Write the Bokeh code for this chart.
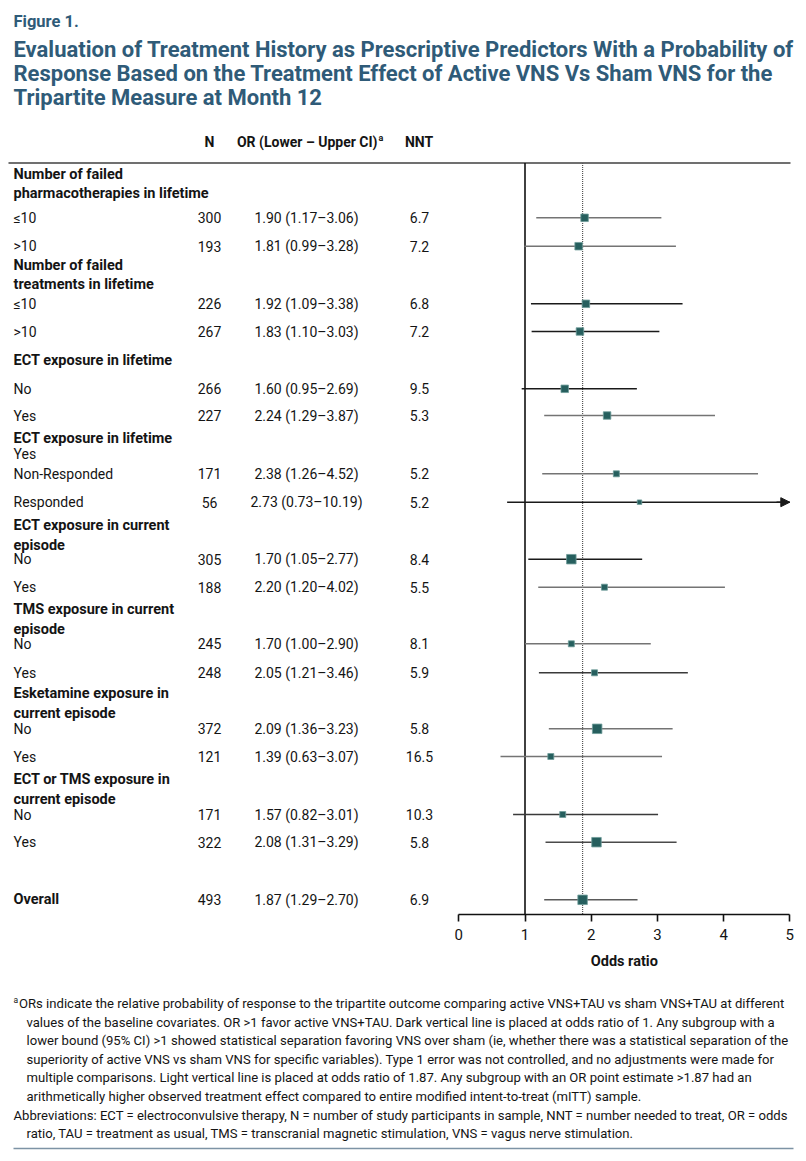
from bokeh.plotting import figure
from bokeh.models import Range1d, LinearAxis, FixedTicker, Arrow, NormalHead
from bokeh.core.properties import value
from bokeh.embed import file_html
from bokeh.resources import INLINE

# ---------------- data ----------------
group_titles = [
    ["Number of failed", "pharmacotherapies in lifetime"],
    ["Number of failed", "treatments in lifetime"],
    ["ECT exposure in lifetime"],
    ["ECT exposure in lifetime"],
    ["ECT exposure in current", "episode"],
    ["TMS exposure in current", "episode"],
    ["Esketamine exposure in", "current episode"],
    ["ECT or TMS exposure in", "current episode"],
]
sub_title = "Yes"  # sub-level under the 4th group
row_labels = ["≤10", ">10", "≤10", ">10", "No", "Yes", "Non-Responded", "Responded",
              "No", "Yes", "No", "Yes", "No", "Yes", "No", "Yes", "Overall"]
n_values = [300, 193, 226, 267, 266, 227, 171, 56, 305, 188, 245, 248, 372, 121, 171, 322, 493]
or_values = [1.90, 1.81, 1.92, 1.83, 1.60, 2.24, 2.38, 2.73, 1.70, 2.20, 1.70, 2.05, 2.09, 1.39, 1.57, 2.08, 1.87]
ci_lower = [1.17, 0.99, 1.09, 1.10, 0.95, 1.29, 1.26, 0.73, 1.05, 1.20, 1.00, 1.21, 1.36, 0.63, 0.82, 1.31, 1.29]
ci_upper = [3.06, 3.28, 3.38, 3.03, 2.69, 3.87, 4.52, 10.19, 2.77, 4.02, 2.90, 3.46, 3.23, 3.07, 3.01, 3.29, 2.70]
nnt_values = [6.7, 7.2, 6.8, 7.2, 9.5, 5.3, 5.2, 5.2, 8.4, 5.5, 8.1, 5.9, 5.8, 16.5, 10.3, 5.8, 6.9]
tick_values = [0, 1, 2, 3, 4, 5]
null_value = 1

col_headers = ["N", "OR (Lower \u2013 Upper CI)", "NNT"]
fig_label = "Figure 1."
title_lines = [
    "Evaluation of Treatment History as Prescriptive Predictors With a Probability of",
    "Response Based on the Treatment Effect of Active VNS Vs Sham VNS for the",
    "Tripartite Measure at Month 12",
]
x_label = "Odds ratio"
footnote_lines = [
    "ORs indicate the relative probability of response to the tripartite outcome comparing active VNS+TAU vs sham VNS+TAU at different",
    "values of the baseline covariates. OR >1 favor active VNS+TAU. Dark vertical line is placed at odds ratio of 1. Any subgroup with a",
    "lower bound (95% CI) >1 showed statistical separation favoring VNS over sham (ie, whether there was a statistical separation of the",
    "superiority of active VNS vs sham VNS for specific variables). Type 1 error was not controlled, and no adjustments were made for",
    "multiple comparisons. Light vertical line is placed at odds ratio of 1.87. Any subgroup with an OR point estimate >1.87 had an",
    "arithmetically higher observed treatment effect compared to entire modified intent-to-treat (mITT) sample.",
]
abbrev_lines = [
    "Abbreviations: ECT = electroconvulsive therapy, N = number of study participants in sample, NNT = number needed to treat, OR = odds",
    "ratio, TAU = treatment as usual, TMS = transcranial magnetic stimulation, VNS = vagus nerve stimulation.",
]

# ---------------- layout / style ----------------
W, H = 798, 1156
X0, XS = 458.3, 66.2          # pixel of OR=0, pixels per OR unit
def X(px):
    return (px - X0) / XS

group_y = [[174, 193.3], [265, 284.3], [360], [438.3], [525, 545], [609, 629], [693.3, 713.3], [779.3, 799.3]]
sub_title_y = 453.3
row_y = [217.3, 245.7, 303.3, 331, 388.3, 415, 473.3, 501.7, 558.7, 586.7,
         643.3, 672.3, 728.3, 756, 814, 841.7, 899.3]
box_size = [7.5, 7.5, 7.5, 7.5, 7.5, 7.5, 6, 4.5, 9.5, 6, 6, 6, 9.5, 6, 6, 9.5, 9.5]
ci_color = ["#747474", "#747474", "#1a1a1a", "#1a1a1a", "#1a1a1a", "#747474", "#747474", "#1a1a1a",
            "#1a1a1a", "#747474", "#747474", "#3a3a3a", "#747474", "#747474", "#3a3a3a", "#4a4a4a", "#5a5a5a"]
RULE_Y, AXIS_Y, AXIS_MAX = 162.5, 914, tick_values[-1]
TITLE_C = "#2f5b78"
BOX_C = "#265f5e"
FONT = value("Roboto")
TXT = "#141414"

p = figure(width=W, height=H, output_backend="svg", toolbar_location=None,
           x_range=Range1d(X(0), X(W)), y_range=Range1d(H, 0),
           x_axis_location=None, y_axis_location=None, min_border=0)
p.outline_line_color = None
p.grid.visible = False

# title
p.text(x=[X(13)], y=[20.5], text=[fig_label], text_font=FONT, text_font_style="bold",
       text_font_size="16.5px", text_color=TITLE_C, text_baseline="middle")
p.text(x=[X(13)] * 3, y=[48.5, 72.7, 96.8], text=title_lines, text_font=FONT,
       text_font_style="bold", text_font_size="22px", text_color=TITLE_C, text_baseline="middle")

# column headers
HDR_FS = "14px"
p.text(x=[X(209)], y=[141.7], text=[col_headers[0]], text_font=FONT, text_font_style="bold",
       text_font_size=HDR_FS, text_color=TXT, text_align="center", text_baseline="middle")
p.text(x=[X(377)], y=[141.7], text=[col_headers[1]], text_font=FONT, text_font_style="bold",
       text_font_size=HDR_FS, text_color=TXT, text_align="right", text_baseline="middle")
p.text(x=[X(378)], y=[137.5], text=["a"], text_font=FONT, text_font_style="bold",
       text_font_size="9px", text_color=TXT, text_align="left", text_baseline="middle")
p.text(x=[X(418.5)], y=[141.7], text=[col_headers[2]], text_font=FONT, text_font_style="bold",
       text_font_size=HDR_FS, text_color=TXT, text_align="center", text_baseline="middle")

# group titles
gx, gy, gt = [], [], []
for lines, ys in zip(group_titles, group_y):
    for t, yy in zip(lines, ys):
        gx.append(X(13)); gy.append(yy); gt.append(t)
p.text(x=gx, y=gy, text=gt, text_font=FONT, text_font_style="bold", text_font_size="14.5px",
       text_color=TXT, text_baseline="middle")
p.text(x=[X(13)], y=[sub_title_y], text=[sub_title], text_font=FONT, text_font_size="14px",
       text_color=TXT, text_baseline="middle")

# row labels and columns
NUM_FS = "14px"
reg = list(range(len(row_labels) - 1))
p.text(x=[X(13)] * len(reg), y=[row_y[i] for i in reg], text=[row_labels[i] for i in reg],
       text_font=FONT, text_font_size="14px", text_color=TXT, text_baseline="middle")
p.text(x=[X(13)], y=[row_y[-1]], text=[row_labels[-1]], text_font=FONT, text_font_style="bold",
       text_font_size="14.5px", text_color=TXT, text_baseline="middle")
p.text(x=[X(209)] * len(n_values), y=row_y, text=[str(n) for n in n_values], text_font=FONT,
       text_font_size=NUM_FS, text_color=TXT, text_align="center", text_baseline="middle")
or_txt = [f"{o:.2f} ({l:.2f}\u2013{u:.2f})" for o, l, u in zip(or_values, ci_lower, ci_upper)]
p.text(x=[X(306)] * len(or_txt), y=row_y, text=or_txt, text_font=FONT,
       text_font_size=NUM_FS, text_color=TXT, text_align="center", text_baseline="middle")
p.text(x=[X(419)] * len(nnt_values), y=row_y, text=[f"{v:.1f}" for v in nnt_values], text_font=FONT,
       text_font_size=NUM_FS, text_color=TXT, text_align="center", text_baseline="middle")

# rules
p.segment(x0=[X(8)], y0=[RULE_Y], x1=[X(790)], y1=[RULE_Y], line_color="#707070", line_width=2)
p.segment(x0=[X(13)], y0=[1148], x1=[X(793)], y1=[1148], line_color="#7d93a5", line_width=1.5)

# reference lines
p.segment(x0=[null_value], y0=[RULE_Y], x1=[null_value], y1=[AXIS_Y], line_color="#111111", line_width=1.6)
p.segment(x0=[or_values[-1]], y0=[RULE_Y], x1=[or_values[-1]], y1=[AXIS_Y], line_color="#555555",
          line_width=1.2, line_dash="1 1")

# CI lines and boxes
x_hi = [min(u, AXIS_MAX) for u in ci_upper]
p.segment(x0=ci_lower, y0=row_y, x1=x_hi, y1=row_y, line_color=ci_color, line_width=1.6)
for u, yy, c in zip(ci_upper, row_y, ci_color):
    if u > AXIS_MAX:
        p.add_layout(Arrow(end=NormalHead(size=9, fill_color=c, line_color=c), x_start=AXIS_MAX - 0.2,
                           y_start=yy, x_end=AXIS_MAX, y_end=yy, line_color=c, line_width=1.6))
p.scatter(x=or_values, y=row_y, size=box_size, marker="square", fill_color=BOX_C,
          line_color="#6f9c99", line_width=0.8)

# axis
ax = LinearAxis(fixed_location=AXIS_Y, bounds=(tick_values[0], tick_values[-1]),
                ticker=FixedTicker(ticks=tick_values))
ax.axis_line_width = 1.6
ax.axis_line_color = "#111111"
ax.major_tick_line_width = 1.6
ax.major_tick_line_color = "#111111"
ax.major_tick_out = 7
ax.major_tick_in = 0
ax.minor_tick_out = 0
ax.minor_tick_in = 0
ax.major_label_text_font = "Roboto"
ax.major_label_text_font_size = "15px"
ax.major_label_text_color = TXT
ax.major_label_standoff = 7
p.add_layout(ax, "below")
p.text(x=[(tick_values[0] + tick_values[-1]) / 2], y=[961], text=[x_label], text_font=FONT,
       text_font_style="bold", text_font_size="14.5px", text_color=TXT, text_align="center",
       text_baseline="middle")

# footnotes
p.text(x=[X(13)], y=[999.5], text=["a"], text_font=FONT, text_font_size="8.5px",
       text_color=TXT, text_baseline="middle")
fn_y = [1003, 1021.6, 1040.2, 1058.8, 1077.4, 1096]
fn_x = [X(18.5)] + [X(26)] * (len(footnote_lines) - 1)
p.text(x=fn_x, y=fn_y, text=footnote_lines, text_font=FONT, text_font_size="13.1px",
       text_color=TXT, text_baseline="middle")
p.text(x=[X(13), X(26)], y=[1114.6, 1133.2], text=abbrev_lines, text_font=FONT, text_font_size="13.1px",
       text_color=TXT, text_baseline="middle")

open("out.html", "w").write(file_html(p, INLINE))
